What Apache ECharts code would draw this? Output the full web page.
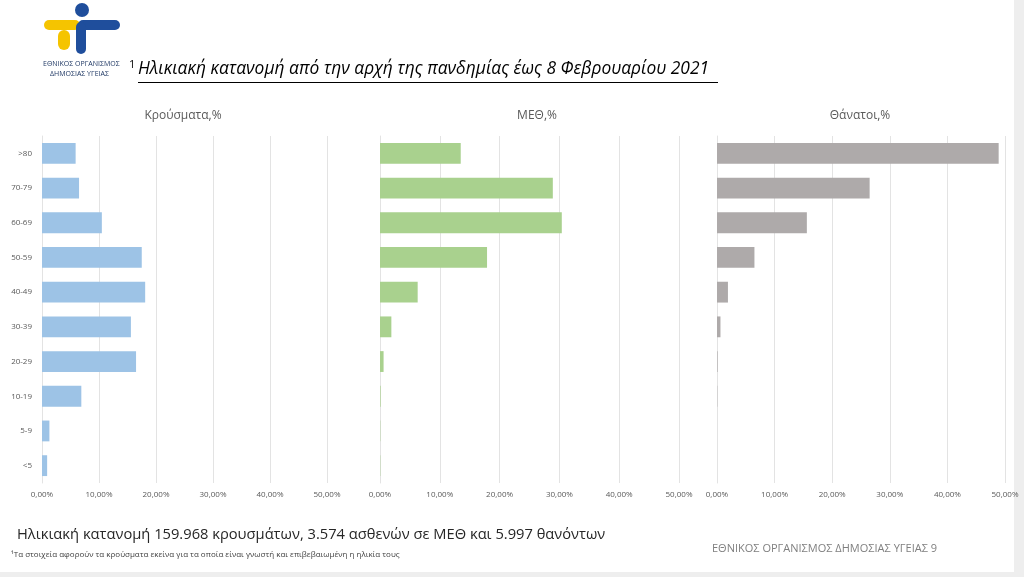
<!DOCTYPE html>
<html>
<head>
    <meta charset="utf-8">
    <title>ECharts</title>
    <script src="https://cdn.jsdelivr.net/npm/echarts@6/dist/echarts.min.js"></script>
</head>
<body style="margin:0;background:#f2f2f2;">
    <div id="main" style="width:1024px;height:577px;"></div>
    <script type="text/javascript">
        var myChart = echarts.init(document.getElementById('main'));

        // ηλικιακές ομάδες (από κάτω προς τα πάνω)
        var ageGroups = ["<5", "5-9", "10-19", "20-29", "30-39", "40-49", "50-59", "60-69", "70-79", ">80"];
        var casesPct = [0.9, 1.3, 6.9, 16.5, 15.6, 18.1, 17.5, 10.5, 6.5, 5.9];
        var icuPct = [0.05, 0.05, 0.1, 0.6, 1.9, 6.3, 17.9, 30.4, 28.9, 13.5];
        var deathsPct = [0, 0, 0.05, 0.1, 0.6, 1.9, 6.5, 15.6, 26.5, 48.9];
        var panelTitles = ["Κρούσματα,%", "ΜΕΘ,%", "Θάνατοι,%"];
        var panelColors = ['#9dc3e6', '#a9d18e', '#aeaaaa'];

        var grids = [
            { left: 42, width: 285 },
            { left: 380, width: 299 },
            { left: 717, width: 288 }
        ];
        var titleX = [178, 532, 855];
        var seriesData = [casesPct, icuPct, deathsPct];

        var option = {
            backgroundColor: '#ffffff',
            grid: grids.map(function(g) {
                return { left: g.left, width: g.width, top: 136, bottom: 94 };
            }),
            xAxis: grids.map(function(g, i) {
                return {
                    type: 'value', gridIndex: i, min: 0, max: 50, interval: 10,
                    axisLabel: {
                        color: '#595959', fontSize: 8, fontFamily: 'Open Sans', margin: 8,
                        formatter: function(v) { return v.toFixed(2).replace('.', ',') + '%'; }
                    },
                    axisLine: { show: false },
                    axisTick: { show: false },
                    splitLine: { lineStyle: { color: '#e3e3e3' } }
                };
            }),
            yAxis: grids.map(function(g, i) {
                return {
                    type: 'category', gridIndex: i, data: ageGroups,
                    axisLabel: { show: i === 0, color: '#595959', fontSize: 8, fontFamily: 'Open Sans', margin: 10 },
                    axisLine: { show: true, lineStyle: { color: '#e3e3e3' } },
                    axisTick: { show: false }
                };
            }),
            series: seriesData.map(function(d, i) {
                return {
                    type: 'bar', xAxisIndex: i, yAxisIndex: i, data: d,
                    barCategoryGap: '40%',
                    itemStyle: { color: panelColors[i] }
                };
            }),
            title: panelTitles.map(function(t, i) {
                return {
                    text: t, left: titleX[i], top: 105, textAlign: 'center',
                    textStyle: { color: '#595959', fontSize: 12, fontWeight: 'normal', fontFamily: 'Open Sans' }
                };
            }).concat([
                {
                    text: 'Ηλικιακή κατανομή 159.968 κρουσμάτων, 3.574 ασθενών σε ΜΕΘ και 5.997 θανόντων',
                    left: 12, top: 522,
                    textStyle: { color: '#262626', fontSize: 14.7, fontWeight: 'normal', fontFamily: 'Open Sans' }
                },
                {
                    text: '¹Τα στοιχεία αφορούν τα κρούσματα εκείνα για τα οποία είναι γνωστή και επιβεβαιωμένη η ηλικία τους',
                    left: 6, top: 546,
                    textStyle: { color: '#404040', fontSize: 8, fontWeight: 'normal', fontFamily: 'Open Sans' }
                },
                {
                    text: 'ΕΘΝΙΚΟΣ ΟΡΓΑΝΙΣΜΟΣ ΔΗΜΟΣΙΑΣ ΥΓΕΙΑΣ 9',
                    left: 707, top: 538,
                    textStyle: { color: '#7f7f7f', fontSize: 11, fontWeight: 'normal', fontFamily: 'Open Sans' }
                }
            ]),
            graphic: [
                { type: 'rect', shape: { x: 1014, y: 0, width: 10, height: 577 }, style: { fill: '#eeeeee' } },
                { type: 'rect', shape: { x: 0, y: 572, width: 1024, height: 5 }, style: { fill: '#eeeeee' } },
                // λογότυπο (απλοποιημένο)
                { type: 'circle', shape: { cx: 82, cy: 10, r: 7 }, style: { fill: '#1f4e9c' } },
                { type: 'rect', shape: { x: 44, y: 20, width: 36, height: 10, r: 5 }, style: { fill: '#f5c400' } },
                { type: 'rect', shape: { x: 78, y: 20, width: 42, height: 10, r: 5 }, style: { fill: '#1f4e9c' } },
                { type: 'rect', shape: { x: 76, y: 22, width: 10, height: 32, r: 5 }, style: { fill: '#1f4e9c' } },
                { type: 'rect', shape: { x: 58, y: 30, width: 12, height: 20, r: 6 }, style: { fill: '#f5c400' } },
                { type: 'text', left: 43, top: 60, style: { text: 'ΕΘΝΙΚΟΣ ΟΡΓΑΝΙΣΜΟΣ', fill: '#1f3864', fontSize: 7, fontFamily: 'Open Sans' } },
                { type: 'text', left: 50, top: 70, style: { text: 'ΔΗΜΟΣΙΑΣ ΥΓΕΙΑΣ', fill: '#1f3864', fontSize: 7, fontFamily: 'Open Sans' } },
                { type: 'text', left: 129, top: 59, style: { text: '1', fill: '#000', fontSize: 11, fontFamily: 'Open Sans' } },
                { type: 'text', left: 138, top: 61, style: { text: 'Ηλικιακή κατανομή από την αρχή της πανδημίας έως 8 Φεβρουαρίου 2021', fill: '#000', fontSize: 17.4, fontStyle: 'italic', fontFamily: 'Open Sans' } },
                { type: 'rect', shape: { x: 138, y: 82, width: 580, height: 1 }, style: { fill: '#000' } }
            ]
        };

        myChart.setOption(option);
    </script>
</body>
</html>
